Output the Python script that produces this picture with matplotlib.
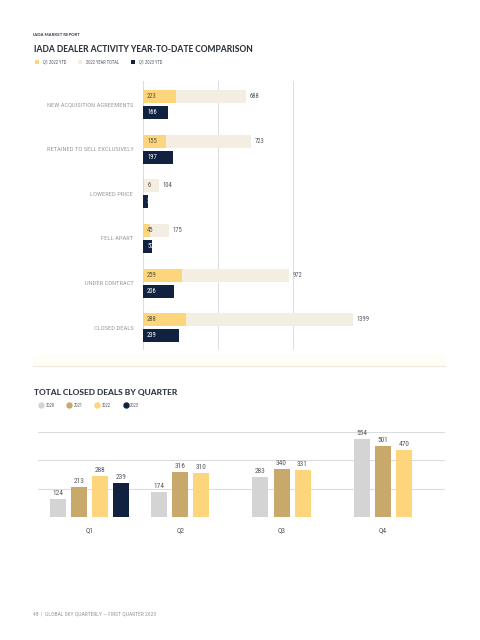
import matplotlib
matplotlib.use("Agg")
import matplotlib.pyplot as plt
import numpy as np
from matplotlib.lines import Line2D
from matplotlib.patches import Rectangle

# --- データ ---
categories = ["NEW ACQUISITION AGREEMENTS", "RETAINED TO SELL EXCLUSIVELY", "LOWERED PRICE",
              "FELL APART", "UNDER CONTRACT", "CLOSED DEALS"]
q1_2022_ytd = [223, 155, 6, 45, 259, 288]
total_2022 = [688, 723, 104, 175, 972, 1399]
q1_2023_ytd = [166, 197, 32, 57, 206, 239]

quarters = ["Q1", "Q2", "Q3", "Q4"]
years = ["2020", "2021", "2022", "2023"]
closed_by_year = {
    "2020": [124, 174, 283, 554],
    "2021": [213, 316, 340, 501],
    "2022": [288, 310, 331, 470],
    "2023": [239, None, None, None],
}

# --- 配色 ---
YELLOW = "#FDD57C"
BEIGE = "#F3EDE2"
NAVY = "#10223F"
YEAR_COLORS = {"2020": "#D4D4D4", "2021": "#C9A86B", "2022": "#FDD57C", "2023": "#10223F"}
TITLE_C = "#2F3640"
LABEL_C = "#9C9C9C"
VALUE_C = "#555B63"
GRID_C = "#DCDCDC"

NARROW = ["Roboto Condensed", "DejaVu Sans Condensed", "Roboto", "DejaVu Sans"]
HEAD = ["Lato", "DejaVu Sans"]

W, H = 480, 640
fig = plt.figure(figsize=(4.8, 6.4), dpi=100)


def fx(px):
    return px / W


def fy(py):
    return 1 - py / H


# --- ヘッダー ---
fig.text(fx(33), fy(35), "IADA MARKET REPORT", fontsize=3.1, weight="bold",
         color=TITLE_C, family=HEAD, va="center")
fig.text(fx(34), fy(50), "IADA DEALER ACTIVITY YEAR-TO-DATE COMPARISON", fontsize=6.15,
         weight="black", color=TITLE_C, family=HEAD, va="center")

# --- 上段: 横棒 ---
ax = fig.add_axes([fx(143), fy(350), fx(368) - fx(143), fy(81) - fy(350)])
rows = np.arange(len(categories))
off, bh = 0.18, 0.29
b_tot = ax.barh(rows - off, total_2022, height=bh, color=BEIGE, label="2022 YEAR TOTAL", zorder=2)
b_q22 = ax.barh(rows - off, q1_2022_ytd, height=bh, color=YELLOW, label="Q1 2022 YTD", zorder=3)
b_q23 = ax.barh(rows + off, q1_2023_ytd, height=bh, color=NAVY, label="Q1 2023 YTD", zorder=3)

for r, v in zip(rows, q1_2022_ytd):
    ax.annotate(str(v), (0, r - off), xytext=(3, 0), textcoords="offset points",
                fontsize=4.8, color="#5A5540", va="center", ha="left", family=NARROW, zorder=4)
for r, v in zip(rows, total_2022):
    ax.annotate(str(v), (v, r - off), xytext=(2.5, 0), textcoords="offset points",
                fontsize=4.8, color=VALUE_C, va="center", ha="left", family=NARROW, zorder=4)
for r, v in zip(rows, q1_2023_ytd):
    ax.annotate(str(v), (0, r + off), xytext=(3, 0), textcoords="offset points",
                fontsize=4.8, color="white", va="center", ha="left", family=NARROW, zorder=4)

ax.set_xlim(0, 1500)
ax.set_ylim(5.5, -0.53)
ax.set_xticks([0, 500, 1000, 1500])
ax.set_xticklabels([])
ax.set_yticks(rows)
ax.set_yticklabels(categories, fontsize=4.65, color=LABEL_C, family=NARROW)
ax.tick_params(length=0, pad=7)
ax.grid(True, axis="x", color=GRID_C, lw=0.7, zorder=0)
for s in ax.spines.values():
    s.set_visible(False)

leg = fig.legend(handles=[b_q22, b_tot, b_q23], loc="center left",
                 bbox_to_anchor=(fx(31), fy(62)), ncol=3, frameon=False,
                 handlelength=0.9, handleheight=0.9, handletextpad=0.8,
                 columnspacing=2.6, prop={"family": NARROW, "size": 3.3})
for t in leg.get_texts():
    t.set_color(VALUE_C)

# --- 区切り線 ---
fig.add_artist(Rectangle((fx(33), fy(366)), fx(445) - fx(33), fy(354) - fy(366),
                         transform=fig.transFigure, color="#FFFDF8", lw=0))
fig.add_artist(Line2D([fx(33), fx(445)], [fy(366), fy(366)], transform=fig.transFigure,
                      color="#F3EBDA", lw=1.0))

# --- 下段: 四半期別 ---
fig.text(fx(34), fy(392), "TOTAL CLOSED DEALS BY QUARTER", fontsize=6.0,
         weight="black", color=TITLE_C, family=HEAD, va="center")

ax2 = fig.add_axes([fx(38), fy(517), fx(445) - fx(38), fy(425) - fy(517)])
step, bw = 0.208, 0.158
tick_pos = []
for gi in range(len(quarters)):
    xs = []
    for k, yr in enumerate(years):
        v = closed_by_year[yr][gi]
        if v is None:
            continue
        x = gi + (k - 1.5) * step
        xs.append(x)
        ax2.bar(x, v, width=bw, color=YEAR_COLORS[yr], zorder=3)
        ax2.annotate(str(v), (x, v), xytext=(0, 1.5), textcoords="offset points",
                     ha="center", va="bottom", fontsize=5.3, color=VALUE_C, family=NARROW)
    tick_pos.append(np.mean(xs))

ax2.set_xlim(-0.508, 3.51)
ax2.set_ylim(0, 650)
ax2.set_yticks([0, 200, 400, 600])
ax2.set_yticklabels([])
ax2.set_xticks(tick_pos)
ax2.set_xticklabels(quarters, fontsize=5.3, color=VALUE_C, family=NARROW)
ax2.tick_params(length=0)
ax2.tick_params(axis="x", pad=7)
ax2.grid(True, axis="y", color=GRID_C, lw=0.8, zorder=0)
for s in ax2.spines.values():
    s.set_visible(False)

year_handles = [Line2D([0], [0], marker="o", ls="", markersize=3.6,
                       markerfacecolor=YEAR_COLORS[y], markeredgecolor=YEAR_COLORS[y], label=y)
                for y in years]
leg2 = fig.legend(handles=year_handles, loc="center left", bbox_to_anchor=(fx(35), fy(405.5)),
                  ncol=4, frameon=False, handlelength=0.8, handletextpad=0.6,
                  columnspacing=2.8, prop={"family": NARROW, "size": 3.3})
for t in leg2.get_texts():
    t.set_color(VALUE_C)

# --- フッター ---
fig.text(fx(33), fy(614), "48  |  GLOBAL SKY QUARTERLY — FIRST QUARTER 2023", fontsize=4.1,
         color="#9A9A9A", family=NARROW, va="center")

fig.savefig("out.png", dpi=100)
